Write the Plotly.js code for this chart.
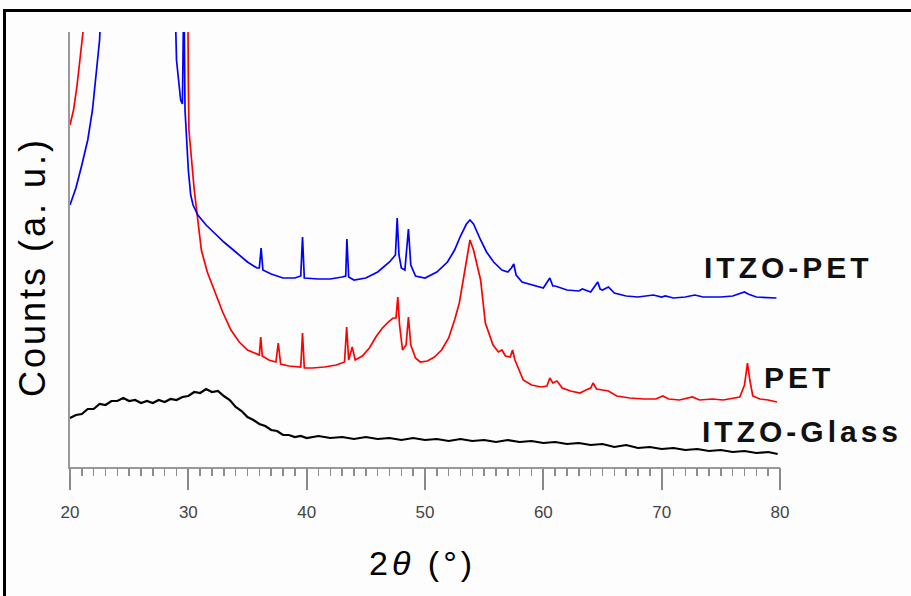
<!DOCTYPE html>
<html>
<head>
<meta charset="utf-8">
<script src="https://cdn.plot.ly/plotly-3.0.1.min.js"></script>
<style>
html,body{margin:0;padding:0;background:#fdfdfd;overflow:hidden;}
#wrap{position:relative;width:911px;height:596px;}
#frame{position:absolute;left:3px;top:9px;width:1000px;height:1000px;border:3px solid #000;box-sizing:border-box;pointer-events:none;z-index:5;}
#chart{position:absolute;left:0;top:0;width:911px;height:596px;}
</style>
</head>
<body>
<div id="wrap"><div id="chart"></div><div id="frame"></div></div>
<script>
// 2θ (degrees) and counts (arbitrary units)
const pet_itzo_x = [20,20.5,21.0,21.5,21.9,22.2,22.5,22.7,28.85,29.0,29.2,29.35,29.5,29.62,29.72,29.85,30.0,30.2,30.4,30.8,31.5,32.2,33,34,35,35.8,36.0,36.15,36.3,37,37.5,38,39,39.5,39.65,39.8,41,42,43,43.3,43.4,43.55,44,45,46,47,47.5,47.65,47.8,48.0,48.3,48.6,48.8,49.2,50,51,51.9,52.5,53,53.5,53.8,54.1,54.7,55.2,55.8,56.5,57,57.3,57.5,57.7,58.2,59,60,60.55,60.8,61,62,63,63.3,64,64.6,64.8,65,65.5,66,67,68,69.3,70,70.3,71,72,72.8,73.5,75,76,77,77.3,78,79.7];
const pet_itzo_y = [262,279,302,327,357,392,427,480,480,407,382,367,363,480,357,327,297,272,262,252,242,234,225,215,205,199,199,219,197,193,191,189,189,191,230,189,188,188,190,191,228,190,187,189,195,205,212,249,212,199,197,238,202,191,189,195,205,217,231,243,247,243,227,215,205,197,195,199,203,192,185,182,179,189,181,181,177,176,178,175,185,178,177,180,174,171,170,172,170,171,169,170,172,170,170,171,175,173,170,169];

const pet_x = [20,20.3,20.6,20.9,21.1,21.3,29.95,30.0,30.05,30.5,31.1,31.6,32.2,32.9,33.6,34.3,35.0,35.7,36.0,36.12,36.25,36.8,37.4,37.6,37.8,38.5,39.5,39.65,39.8,40.5,41.5,42.5,43.2,43.38,43.55,43.85,44.1,44.7,45.3,45.9,46.4,46.9,47.3,47.55,47.7,47.85,48.1,48.4,48.6,48.8,49.2,49.6,50.2,50.8,51.4,52.0,52.5,52.9,53.3,53.6,53.8,54.1,54.4,54.7,55.1,55.75,56.2,56.5,56.8,57.2,57.4,57.6,58.3,59.0,59.8,60.3,60.55,60.8,61.15,61.6,62.3,63.1,63.6,64.0,64.2,64.5,65.0,65.5,66.2,67.3,68.5,69.5,70.1,70.6,71.5,72.6,73.2,74.3,75.2,76.0,76.6,77.0,77.25,77.45,77.7,78.3,79.0,79.75];
const pet_y = [342,357,382,412,435,480,480,387,337,277,217,195,177,155,137,125,117,113,112,130,111,107,105,124,103,101,100,134,99,99,100,102,105,140,107,120,107,111,119,131,139,145,149,149,170,142,117,122,150,122,109,105,106,110,117,129,147,164,192,217,227,217,202,187,144,122,115,117,111,110,117,107,87,82,80,81,89,84,86,79,76,74,77,79,84,78,77,76,71,69,68,68,71,68,67,70,67,68,67,69,70,82,104,87,71,68,67,65];

const glass_x = [20,20.5,21,21.5,22,22.5,23,23.5,24,24.5,25,25.5,26,26.5,27,27.5,28,28.5,29,29.5,30,30.5,31,31.5,32,32.5,33,33.5,34,34.5,35,35.5,36,36.5,37,37.5,38,38.5,39,39.5,40,41,42,43,44,45,46,47,48,49,50,51,52,53,54,55,56,57,58,59,60,61,62,63,64,65,66,67,68,69,70,71,72,73,74,75,76,77,78,79,79.8];
const glass_y = [49,52,53,58,58,63,62,66,66,69,66,67,64,66,64,67,65,68,67,70,71,75,74,78,75,76,71,67,60,56,50,47,43,41,37,36,32,32,30,31,29,31,29,30,28,30,28,29,27,29,27,28,26,28,26,27,25,27,25,26,24,25,23,24,22,23,20,22,19,20,18,19,17,18,16,17,15,16,14,15,13];

const seriesNames = ['ITZO-PET','PET','ITZO-Glass'];
const xTickStart = 20, xTickStep = 10, xMinorStep = 1;

const ls = (t, n) => '<span style="letter-spacing:' + n + 'px">' + t + '</span>';
const labelFont = {family:'Liberation Sans, Arial, sans-serif', size:30, color:'#111', weight:'bold'};

const traces = [
  {x: glass_x, y: glass_y, xaxis:'x2', name: seriesNames[2], mode:'lines', line:{color:'#000000', width:2.2}},
  {x: pet_x, y: pet_y, name: seriesNames[1], mode:'lines', line:{color:'#ff0000', width:1.7}},
  {x: pet_itzo_x, y: pet_itzo_y, xaxis:'x3', name: seriesNames[0], mode:'lines', line:{color:'#0000ff', width:1.7}}
];

const layout = {
  width:911, height:596,
  margin:{l:70, r:131, t:32, b:129},
  paper_bgcolor:'rgba(0,0,0,0)', plot_bgcolor:'rgba(0,0,0,0)',
  showlegend:false,
  xaxis:{range:[20,80], tickmode:'linear', tick0:xTickStart, dtick:xTickStep,
    ticks:'outside', ticklen:21, tickwidth:2, tickcolor:'#888888', showticklabels:false,
    showline:true, linecolor:'#999', linewidth:2, showgrid:false, zeroline:false},
  xaxis2:{range:[20,80], overlaying:'x', anchor:'y', side:'bottom', tickmode:'linear', tick0:xTickStart, dtick:xMinorStep,
    ticks:'outside', ticklen:8, tickwidth:1.5, tickcolor:'#8c8c8c',
    showticklabels:false, showline:false, showgrid:false, zeroline:false},
  xaxis3:{range:[20,80], overlaying:'x', anchor:'y', side:'bottom', tickmode:'linear', tick0:xTickStart, dtick:xTickStep,
    ticks:'outside', ticklen:20, tickcolor:'rgba(0,0,0,0)', ticklabelstandoff:10,
    showline:false, showgrid:false, zeroline:false,
    tickfont:{family:'Liberation Sans, Arial, sans-serif', size:17, color:'#444'}},
  yaxis:{range:[0,435], showline:true, linecolor:'#999', linewidth:2, ticks:'', showticklabels:false, showgrid:false, zeroline:false},
  annotations:[
    {xref:'paper', yref:'paper', x:1.012, y:0.4575, xanchor:'center', yanchor:'middle', showarrow:false, text:ls(seriesNames[0],4), font:labelFont},
    {xref:'paper', yref:'paper', x:1.027, y:0.2046, xanchor:'center', yanchor:'middle', showarrow:false, text:ls(seriesNames[1],4), font:labelFont},
    {xref:'paper', yref:'paper', x:1.031, y:0.0805, xanchor:'center', yanchor:'middle', showarrow:false, text:ls(seriesNames[2],4), font:labelFont},
    {xref:'paper', yref:'paper', x:-0.0521, y:0.4598, xanchor:'center', yanchor:'middle', textangle:-90, showarrow:false,
      text:ls('Counts (a. u.)',3), font:{family:'Liberation Sans, Arial, sans-serif', size:36, color:'#000'}},
    {xref:'paper', yref:'paper', x:0.4958, y:-0.2207, xanchor:'center', yanchor:'middle', showarrow:false,
      text:ls('2<i>θ</i> (°)',4), font:{family:'Liberation Sans, Arial, sans-serif', size:34, color:'#000'}}
  ]
};

Plotly.newPlot('chart', traces, layout, {staticPlot:true, displayModeBar:false});
</script>
</body>
</html>
